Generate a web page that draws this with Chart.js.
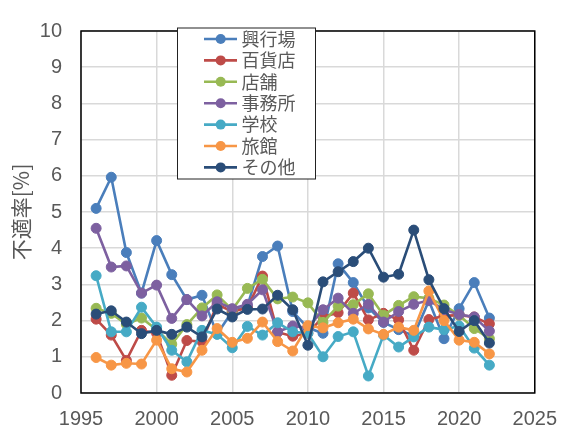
<!DOCTYPE html>
<html>
<head>
<meta charset="utf-8">
<script src="https://cdn.jsdelivr.net/npm/chart.js@4/dist/chart.umd.min.js"></script>
<style>
html, body { margin: 0; padding: 0; background: #fff; }
</style>
</head>
<body>
<canvas id="graph" width="571" height="434"></canvas>
<script>
// Data
var years = [1996, 1997, 1998, 1999, 2000, 2001, 2002, 2003, 2004, 2005, 2006, 2007, 2008, 2009,
    2010, 2011, 2012, 2013, 2014, 2015, 2016, 2017, 2018, 2019, 2020, 2021, 2022];
var labels = ['興行場', '百貨店', '店舗', '事務所', '学校', '旅館', 'その他'];
var kogyo = [5.1, 5.96, 3.88, 2.76, 4.21, 3.27, 2.58, 2.7, 1.63, 2.25, 2.4, 3.77, 4.06, 2.25, 1.8, 1.65, 3.57, 3.05, 2.35, 1.95, 1.75, 1.58, 2.55, 1.5, 2.33, 3.05, 2.07];
var hyakka = [2.04, 1.6, 0.9, 1.73, 1.65, 0.49, 1.45, 1.42, 2.45, 2.25, 2.35, 3.23, 1.68, 1.57, 1.65, 2.1, 2.22, 2.76, 2.02, 2.2, 2.02, 1.18, 2.03, 2.13, 2.15, 2.1, 1.91];
var tenpo = [2.34, 2.2, 1.9, 2.07, 1.75, 1.35, 1.89, 2.35, 2.71, 2.3, 2.89, 3.14, 2.6, 2.65, 2.49, 1.95, 2.4, 2.44, 2.74, 2.15, 2.42, 2.66, 2.62, 2.43, 2.15, 1.78, 1.5];
var jimusho = [4.55, 3.48, 3.51, 2.76, 2.98, 2.06, 2.58, 2.13, 2.52, 2.33, 2.45, 2.85, 1.69, 1.85, 1.8, 2.3, 2.62, 2.2, 2.45, 1.96, 2.25, 2.45, 2.56, 2.3, 2.17, 2.1, 1.71];
var gakko = [3.24, 1.69, 1.69, 2.37, 1.82, 1.18, 0.86, 1.73, 1.62, 1.25, 1.84, 1.6, 1.94, 1.69, 1.65, 1.0, 1.56, 1.69, 0.47, 1.6, 1.27, 1.55, 1.82, 1.75, 1.85, 1.24, 0.77];
var ryokan = [0.98, 0.77, 0.82, 0.8, 1.46, 0.67, 0.58, 1.18, 1.78, 1.4, 1.51, 1.96, 1.42, 1.16, 1.86, 1.8, 1.94, 2.04, 1.77, 1.62, 1.82, 1.73, 2.82, 2.0, 1.46, 1.4, 1.08];
var sonota = [2.18, 2.27, 1.96, 1.64, 1.73, 1.62, 1.82, 1.55, 2.32, 2.1, 2.31, 2.32, 2.7, 2.3, 1.32, 3.07, 3.35, 3.63, 4.0, 3.2, 3.28, 4.5, 3.13, 2.33, 1.7, 2.0, 1.38];
var xTicks = [1995, 2000, 2005, 2010, 2015, 2020, 2025];
var yTicks = [0, 1, 2, 3, 4, 5, 6, 7, 8, 9, 10];

var series = [kogyo, hyakka, tenpo, jimusho, gakko, ryokan, sonota];
var colors = ['#4a7ebb', '#be4b48', '#98b954', '#7d60a0', '#46aac5', '#f79646', '#2a4d78'];
var textColor = '#595959';
var numFont = 'Liberation Sans, Arial, sans-serif';
var jpFont = '"Noto Sans CJK JP", sans-serif';

var datasets = series.map(function (vals, i) {
    return {
        label: labels[i],
        data: vals.map(function (v, j) { return { x: years[j], y: v }; }),
        borderColor: colors[i],
        backgroundColor: colors[i],
        pointBackgroundColor: colors[i],
        pointBorderColor: colors[i],
        borderWidth: 2.6,
        pointRadius: 5,
        pointBorderWidth: 1,
        tension: 0,
        // later series drawn on top, like the original
        order: series.length - i,
    };
});

// Plot frame and boxed legend inside the plot
var extras = {
    id: 'extras',
    afterDraw: function (chart) {
        var ctx = chart.ctx;
        var a = chart.chartArea;
        ctx.save();
        ctx.strokeStyle = '#000';
        ctx.lineWidth = 1.5;
        ctx.strokeRect(a.left, a.top, a.right - a.left, a.bottom - a.top);

        // legend box
        var bx = 177.5, by = 28, bw = 138, bh = 151;
        ctx.fillStyle = '#fff';
        ctx.fillRect(bx, by, bw, bh);
        ctx.strokeStyle = '#222';
        ctx.lineWidth = 1;
        ctx.strokeRect(bx, by, bw, bh);
        ctx.font = '18px ' + jpFont;
        ctx.textBaseline = 'middle';
        ctx.textAlign = 'left';
        chart.data.datasets.forEach(function (ds, i) {
            var y = 39 + i * 21.4;
            ctx.strokeStyle = ds.borderColor;
            ctx.lineWidth = 2.6;
            ctx.beginPath();
            ctx.moveTo(204, y);
            ctx.lineTo(237, y);
            ctx.stroke();
            ctx.fillStyle = ds.borderColor;
            ctx.beginPath();
            ctx.arc(220.7, y, 5, 0, Math.PI * 2);
            ctx.fill();
            ctx.fillStyle = textColor;
            ctx.fillText(ds.label, 241.5, y);
        });
        ctx.restore();
    },
};

var config = {
    type: 'line',
    data: { datasets: datasets },
    options: {
        responsive: false,
        animation: false,
        layout: { padding: { top: 18, right: 25, bottom: 0, left: 0 } },
        plugins: {
            legend: { display: false },
            tooltip: { enabled: false },
        },
        scales: {
            x: {
                type: 'linear',
                min: xTicks[0],
                max: xTicks[xTicks.length - 1],
                afterBuildTicks: function (scale) {
                    scale.ticks = xTicks.map(function (v) { return { value: v }; });
                },
                afterFit: function (scale) { scale.height = 41; },
                grid: { color: '#d9d9d9', lineWidth: 1.5, drawTicks: false },
                border: { display: false },
                ticks: {
                    padding: 14,
                    color: textColor,
                    font: { family: numFont, size: 20 },
                    callback: function (v) { return String(v); },
                },
            },
            y: {
                min: yTicks[0],
                max: yTicks[yTicks.length - 1],
                afterBuildTicks: function (scale) {
                    scale.ticks = yTicks.map(function (v) { return { value: v }; });
                },
                afterFit: function (scale) { scale.width = 81; },
                grid: { color: '#d9d9d9', lineWidth: 1.5, drawTicks: false },
                border: { display: false },
                ticks: {
                    padding: 19,
                    color: textColor,
                    font: { family: numFont, size: 20 },
                },
                title: {
                    display: true,
                    text: '不適率[%]',
                    color: textColor,
                    font: { family: jpFont, size: 21 },
                    padding: { top: 8, bottom: 0 },
                },
            },
        },
    },
    plugins: [extras],
};

new Chart(document.getElementById('graph'), config);
</script>
</body>
</html>
